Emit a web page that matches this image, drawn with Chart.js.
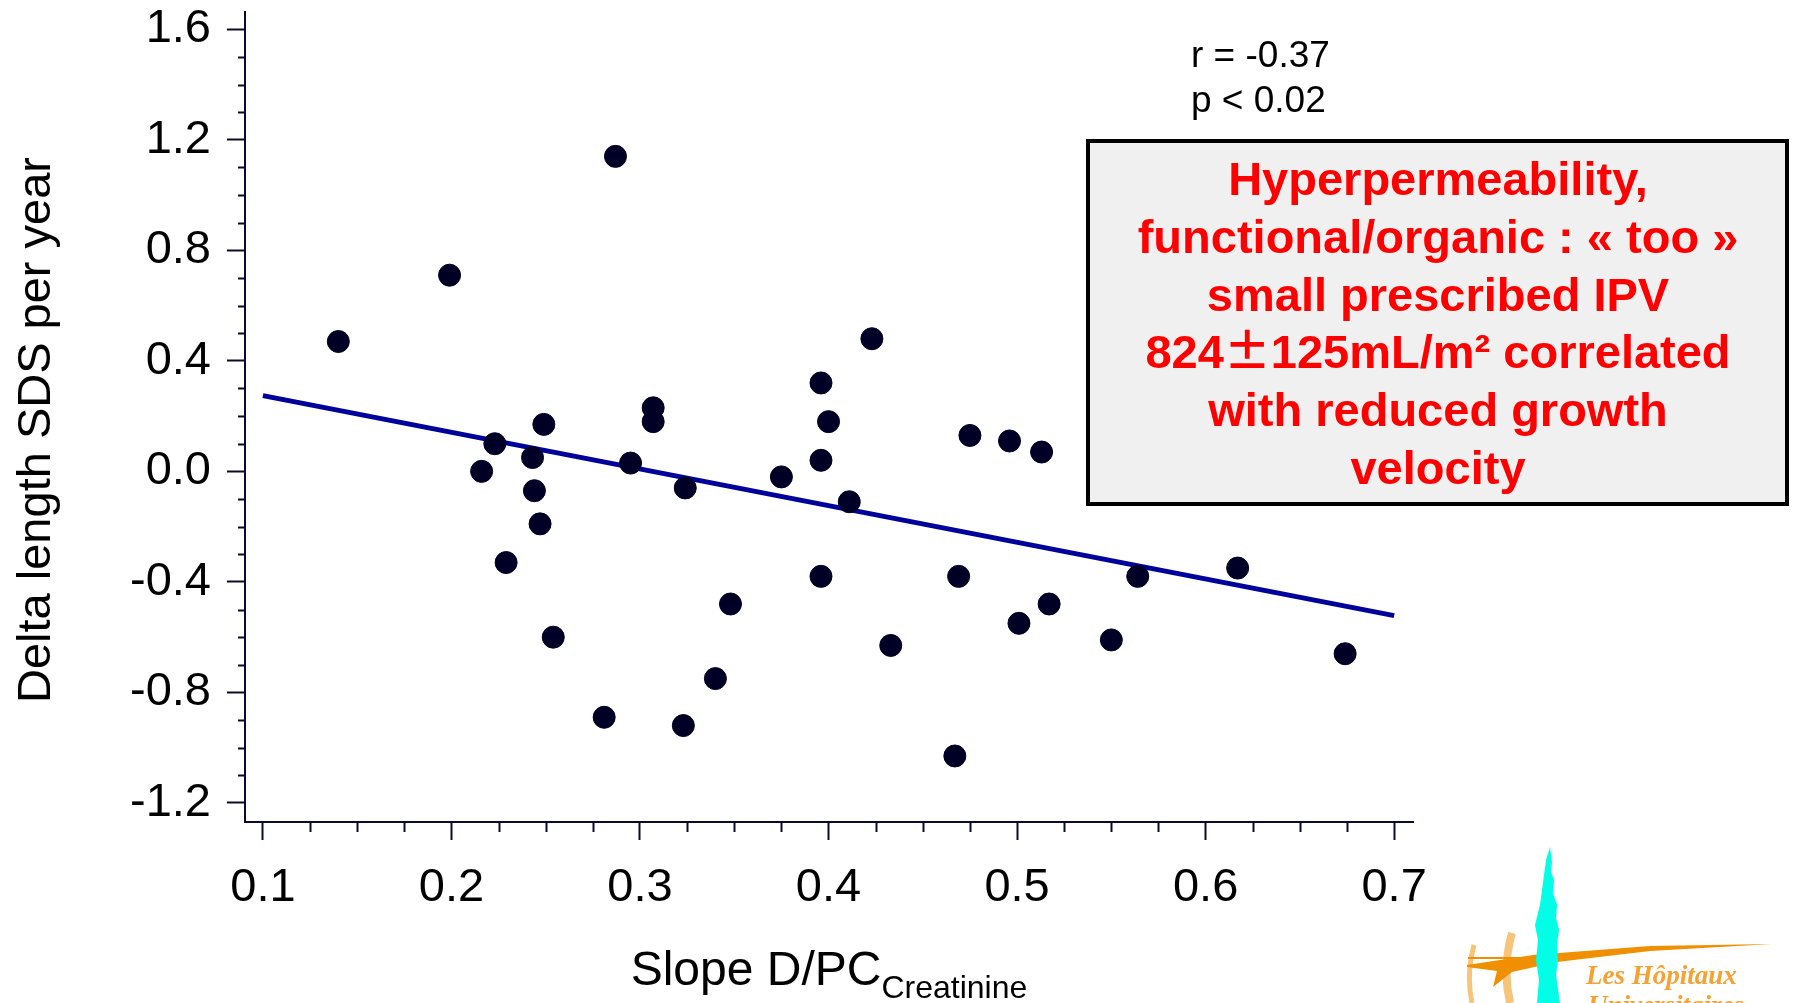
<!DOCTYPE html>
<html>
<head>
<meta charset="utf-8">
<script src="https://cdn.jsdelivr.net/npm/chart.js@4.4.1/dist/chart.umd.min.js"></script>
<style>
html, body { margin: 0; padding: 0; background: #fff; }
#wrap { position: relative; width: 1796px; height: 1003px; overflow: hidden; }
canvas { display: block; }
</style>
</head>
<body>
<div id="wrap"><canvas id="chart" width="1796" height="1003"></canvas></div>
<script>
// values (one point per patient)
const slopeDPC = [0.140, 0.199, 0.287, 0.216, 0.223, 0.243, 0.249, 0.244, 0.247, 0.229,
                  0.254, 0.281, 0.295, 0.307, 0.307, 0.324, 0.323, 0.340, 0.348, 0.375,
                  0.396, 0.400, 0.396, 0.396, 0.411, 0.423, 0.433, 0.467, 0.469, 0.475,
                  0.496, 0.501, 0.513, 0.517, 0.550, 0.564, 0.617, 0.674];
const deltaLengthSDS = [0.47, 0.71, 1.14, 0.00, 0.10, 0.05, 0.17, -0.07, -0.19, -0.33,
                        -0.60, -0.89, 0.03, 0.23, 0.18, -0.06, -0.92, -0.75, -0.48, -0.02,
                        0.32, 0.18, 0.04, -0.38, -0.11, 0.48, -0.63, -1.03, -0.38, 0.13,
                        0.11, -0.55, 0.07, -0.48, -0.61, -0.38, -0.35, -0.66];
// regression line end points
const trendX = [0.1, 0.7];
const trendY = [0.274, -0.522];

const xTicks = [0.1, 0.2, 0.3, 0.4, 0.5, 0.6, 0.7];
const xMinorTicks = [0.125, 0.15, 0.175, 0.225, 0.25, 0.275, 0.325, 0.35, 0.375,
                     0.425, 0.45, 0.475, 0.525, 0.55, 0.575, 0.625, 0.65, 0.675];
const yTicks = [-1.2, -0.8, -0.4, 0, 0.4, 0.8, 1.2, 1.6];
const yMinorTicks = [-1.1, -1.0, -0.9, -0.7, -0.6, -0.5, -0.3, -0.2, -0.1, 0.1, 0.2, 0.3,
                     0.5, 0.6, 0.7, 0.9, 1.0, 1.1, 1.3, 1.4, 1.5];

const statLines = ['r = -0.37', 'p < 0.02'];
// the ± line is split so the wide plus-minus sign can use another font
const boxLines = ['Hyperpermeability,', 'functional/organic : « too »', 'small prescribed IPV',
                  ['824', '±', '125mL/m² correlated'], 'with reduced growth', 'velocity'];

const FONT = 'Arial, "Liberation Sans", sans-serif';
const axisColor = '#0a0a2e';

const slideDecor = {
    id: 'slideDecor',
    beforeDraw(chart) {
        const ctx = chart.ctx;
        ctx.save();
        ctx.fillStyle = '#fff';
        ctx.fillRect(0, 0, chart.width, chart.height);
        ctx.restore();
    },
    afterDraw(chart) {
        const {ctx, scales: {x, y}} = chart;
        ctx.save();

        // minor ticks
        ctx.strokeStyle = axisColor;
        ctx.lineWidth = 2;
        ctx.beginPath();
        xMinorTicks.forEach(v => {
            const px = Math.round(x.getPixelForValue(v)) + 0.5;
            ctx.moveTo(px, x.top);
            ctx.lineTo(px, x.top + 10);
        });
        yMinorTicks.forEach(v => {
            const py = Math.round(y.getPixelForValue(v)) + 0.5;
            ctx.moveTo(y.right - 7, py);
            ctx.lineTo(y.right, py);
        });
        ctx.stroke();

        // y title
        ctx.fillStyle = '#000';
        ctx.font = '47px ' + FONT;
        ctx.textAlign = 'center';
        ctx.textBaseline = 'middle';
        ctx.save();
        ctx.translate(37, 430);
        ctx.rotate(-Math.PI / 2);
        ctx.fillText('Delta length SDS per year', 0, 0);
        ctx.restore();

        // x title with subscript
        ctx.textAlign = 'left';
        ctx.textBaseline = 'alphabetic';
        const main = 'Slope D/PC', sub = 'Creatinine';
        ctx.font = '48px ' + FONT;
        const wMain = ctx.measureText(main).width;
        ctx.font = '32px ' + FONT;
        const wSub = ctx.measureText(sub).width;
        const cx = (chart.chartArea.left + chart.chartArea.right) / 2;
        const x0 = cx - (wMain + wSub) / 2;
        ctx.font = '48px ' + FONT;
        ctx.fillText(main, x0, 985);
        ctx.font = '32px ' + FONT;
        ctx.fillText(sub, x0 + wMain, 998);

        // r / p
        ctx.font = '37px ' + FONT;
        statLines.forEach((t, i) => ctx.fillText(t, 1191, 67 + i * 45));

        // red box
        ctx.fillStyle = '#f0f0f0';
        ctx.fillRect(1088, 141, 699, 363);
        ctx.strokeStyle = '#000';
        ctx.lineWidth = 4;
        ctx.strokeRect(1088, 141, 699, 363);
        ctx.fillStyle = '#ff0000';
        const boxFont = 'bold 47px ' + FONT;
        const wideFont = 'bold 47px "Noto Sans CJK JP", ' + FONT;
        boxLines.forEach((t, i) => {
            const by = 195 + i * 57.8;
            if (typeof t === 'string') {
                ctx.font = boxFont;
                ctx.textAlign = 'center';
                ctx.fillText(t, 1438, by);
                return;
            }
            ctx.textAlign = 'left';
            const fonts = t.map((_, k) => k === 1 ? wideFont : boxFont);
            const widths = t.map((s, k) => { ctx.font = fonts[k]; return ctx.measureText(s).width; });
            let px = 1438 - widths.reduce((a, b) => a + b, 0) / 2;
            t.forEach((s, k) => { ctx.font = fonts[k]; ctx.fillText(s, px, by); px += widths[k]; });
        });

        // hospital logo, cut by the slide edge
        ctx.strokeStyle = '#f6c57a';
        ctx.lineWidth = 5;
        ctx.beginPath();
        ctx.moveTo(1474, 945); ctx.quadraticCurveTo(1466, 975, 1472, 1003);
        ctx.stroke();
        ctx.lineWidth = 8;
        ctx.beginPath();
        ctx.moveTo(1512, 933); ctx.quadraticCurveTo(1502, 968, 1510, 1003);
        ctx.stroke();

        ctx.fillStyle = '#f09000';
        ctx.beginPath();
        ctx.moveTo(1467, 965); ctx.lineTo(1533, 955); ctx.lineTo(1650, 946); ctx.lineTo(1772, 944);
        ctx.lineTo(1650, 951); ctx.lineTo(1557, 962); ctx.lineTo(1512, 972); ctx.lineTo(1493, 987);
        ctx.lineTo(1497, 971); ctx.lineTo(1467, 967);
        ctx.closePath();
        ctx.fill();
        ctx.fillRect(1468, 957, 62, 2);

        ctx.fillStyle = '#00ffe6';
        ctx.beginPath();
        ctx.moveTo(1550, 847); ctx.lineTo(1552, 862); ctx.lineTo(1551, 872); ctx.lineTo(1554, 880);
        ctx.lineTo(1553, 893); ctx.lineTo(1557, 905); ctx.lineTo(1556, 918); ctx.lineTo(1559, 930);
        ctx.lineTo(1557, 945); ctx.lineTo(1558, 960); ctx.lineTo(1556, 975); ctx.lineTo(1560, 1003);
        ctx.lineTo(1537, 1003); ctx.lineTo(1539, 980); ctx.lineTo(1536, 960); ctx.lineTo(1538, 940);
        ctx.lineTo(1535, 925); ctx.lineTo(1540, 905); ctx.lineTo(1542, 890); ctx.lineTo(1544, 875);
        ctx.lineTo(1546, 860);
        ctx.closePath();
        ctx.fill();

        ctx.fillStyle = '#f7a033';
        ctx.font = 'bold italic 27px "Liberation Serif", "DejaVu Serif", serif';
        ctx.textAlign = 'left';
        ctx.fillText('Les Hôpitaux', 1586, 984);
        ctx.fillText('Universitaires', 1588, 1014);

        ctx.restore();
    }
};

const tickFont = { family: FONT, size: 47 };

new Chart(document.getElementById('chart'), {
    type: 'scatter',
    data: {
        datasets: [
            {
                data: slopeDPC.map((v, i) => ({ x: v, y: deltaLengthSDS[i] })),
                backgroundColor: '#000026',
                borderColor: '#000026',
                pointRadius: 11,
                pointHoverRadius: 11,
                order: 1
            },
            {
                data: trendX.map((v, i) => ({ x: v, y: trendY[i] })),
                showLine: true,
                borderColor: '#00009a',
                borderWidth: 5,
                pointRadius: 0,
                order: 2
            }
        ]
    },
    options: {
        responsive: false,
        devicePixelRatio: 1,
        animation: false,
        layout: { padding: { left: 0, top: 11, right: 383, bottom: 0 } },
        plugins: { legend: { display: false }, tooltip: { enabled: false } },
        scales: {
            x: {
                type: 'linear',
                position: 'bottom',
                min: 0.0905,
                max: 0.71,
                afterFit: s => { s.height = 181; s.paddingLeft = 0; s.paddingRight = 0; },
                afterBuildTicks: s => { s.ticks = xTicks.map(v => ({ value: v })); },
                border: { display: true, color: axisColor, width: 2 },
                grid: { drawOnChartArea: false, drawTicks: true, tickLength: 18, tickColor: axisColor, tickWidth: 2 },
                ticks: {
                    autoSkip: false, maxRotation: 0, padding: 20,
                    color: '#000', font: tickFont,
                    callback: v => v.toFixed(1)
                }
            },
            y: {
                type: 'linear',
                position: 'left',
                min: -1.269,
                max: 1.6625,
                afterFit: s => { s.width = 245; s.paddingTop = 0; s.paddingBottom = 0; },
                afterBuildTicks: s => { s.ticks = yTicks.map(v => ({ value: v })); },
                border: { display: true, color: axisColor, width: 2 },
                grid: { drawOnChartArea: false, drawTicks: true, tickLength: 18, tickColor: axisColor, tickWidth: 2 },
                ticks: {
                    autoSkip: false, padding: 16,
                    color: '#000', font: tickFont,
                    callback: v => v.toFixed(1)
                }
            }
        }
    },
    plugins: [slideDecor]
});
</script>
</body>
</html>
